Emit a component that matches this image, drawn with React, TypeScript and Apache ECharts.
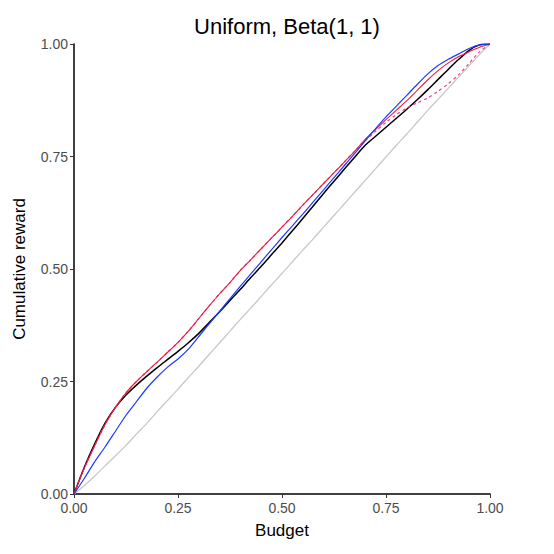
import React, { useEffect, useRef } from "react";
import * as echarts from "echarts";

const budget = [0, 0.025, 0.05, 0.075, 0.1, 0.125, 0.15, 0.175, 0.2, 0.225, 0.25, 0.275, 0.3, 0.325, 0.35, 0.375, 0.4, 0.425, 0.45, 0.475, 0.5, 0.525, 0.55, 0.575, 0.6, 0.625, 0.65, 0.675, 0.7, 0.725, 0.75, 0.775, 0.8, 0.825, 0.85, 0.875, 0.9, 0.925, 0.95, 0.975, 1];

const grayVals = [0, 0.019, 0.04, 0.063, 0.085, 0.108, 0.133, 0.157, 0.183, 0.208, 0.233, 0.259, 0.284, 0.31, 0.336, 0.362, 0.388, 0.413, 0.439, 0.465, 0.49, 0.516, 0.542, 0.567, 0.593, 0.619, 0.645, 0.671, 0.697, 0.723, 0.749, 0.775, 0.8, 0.826, 0.852, 0.877, 0.902, 0.927, 0.952, 0.977, 1];

const blackVals = [0, 0.06, 0.112, 0.158, 0.193, 0.22, 0.242, 0.262, 0.281, 0.299, 0.317, 0.336, 0.357, 0.381, 0.405, 0.43, 0.455, 0.481, 0.506, 0.532, 0.558, 0.585, 0.612, 0.64, 0.668, 0.695, 0.722, 0.749, 0.775, 0.795, 0.815, 0.835, 0.855, 0.876, 0.898, 0.921, 0.944, 0.966, 0.986, 0.998, 1];

const redVals = [0, 0.058, 0.108, 0.155, 0.193, 0.225, 0.25, 0.272, 0.293, 0.315, 0.337, 0.362, 0.39, 0.418, 0.445, 0.47, 0.497, 0.521, 0.545, 0.569, 0.593, 0.617, 0.642, 0.666, 0.69, 0.714, 0.738, 0.762, 0.788, 0.81, 0.832, 0.853, 0.874, 0.897, 0.92, 0.941, 0.958, 0.972, 0.983, 0.993, 1];

const blueVals = [0, 0.035, 0.072, 0.105, 0.14, 0.175, 0.205, 0.235, 0.26, 0.282, 0.3, 0.322, 0.35, 0.378, 0.406, 0.434, 0.462, 0.489, 0.516, 0.543, 0.57, 0.596, 0.622, 0.649, 0.676, 0.703, 0.73, 0.757, 0.785, 0.812, 0.838, 0.862, 0.886, 0.91, 0.933, 0.952, 0.966, 0.978, 0.99, 0.998, 1];

const magentaVals = [0, 0.058, 0.108, 0.155, 0.193, 0.225, 0.25, 0.272, 0.293, 0.315, 0.337, 0.362, 0.39, 0.418, 0.445, 0.47, 0.497, 0.521, 0.545, 0.569, 0.593, 0.617, 0.642, 0.666, 0.69, 0.714, 0.738, 0.762, 0.785, 0.806, 0.826, 0.843, 0.858, 0.869, 0.88, 0.895, 0.912, 0.932, 0.957, 0.983, 1];

const pairs = (ys: number[]) => budget.map((x, i) => [x, ys[i]]);

export default function App() {
  const ref = useRef<HTMLDivElement>(null);
  useEffect(() => {
    if (!ref.current) return;
    const chart = echarts.init(ref.current, undefined, { renderer: "svg" });
    const font = "Liberation Sans, Arial, sans-serif";
    const axisCommon = {
      type: "value" as const,
      min: 0,
      max: 1,
      interval: 0.25,
      nameLocation: "middle" as const,
      nameTextStyle: { color: "#000", fontSize: 17, fontFamily: font },
      axisLine: { show: true, lineStyle: { color: "#000", width: 1.5 } },
      axisTick: { show: true, inside: false, length: 4, lineStyle: { color: "#333", width: 1 } },
      axisLabel: {
        color: "#4d4d4d",
        fontSize: 14,
        fontFamily: font,
        formatter: (v: number) => v.toFixed(2),
      },
      splitLine: { show: false },
    };
    const line = (name: string, ys: number[], color: string, width: number, type: any = "solid", z = 2) => ({
      name,
      type: "line" as const,
      data: pairs(ys),
      showSymbol: false,
      symbol: "none",
      smooth: 0.25,
      z,
      lineStyle: { color, width, type },
    });
    chart.setOption({
      animation: false,
      backgroundColor: "#fff",
      title: {
        text: "Uniform, Beta(1, 1)",
        left: 282,
        top: 10,
        textAlign: "center",
        textStyle: { color: "#000", fontSize: 22, fontWeight: "normal", fontFamily: font },
      },
      grid: { left: 74, right: 64, top: 44, bottom: 60, containLabel: false },
      xAxis: { ...axisCommon, name: "Budget", nameGap: 28, axisLabel: { ...axisCommon.axisLabel, margin: 7 } },
      yAxis: { ...axisCommon, name: "Cumulative reward", nameGap: 46, axisLabel: { ...axisCommon.axisLabel, margin: 6 } },
      series: [
        line("gray", grayVals, "#c8c8c8", 1.3, "solid", 1),
        line("black", blackVals, "#000000", 1.5, "solid", 2),
        line("magenta", magentaVals, "#e8409a", 1.2, [3, 3], 3),
        line("red", redVals, "#f2183c", 1.1, "solid", 4),
        line("blue", blueVals, "#1a3cff", 1.2, "solid", 5),
      ],
    });
    return () => chart.dispose();
  }, []);
  return <div ref={ref} style={{ position: "fixed", left: 0, top: 0, width: 554, height: 554 }} />;
}
